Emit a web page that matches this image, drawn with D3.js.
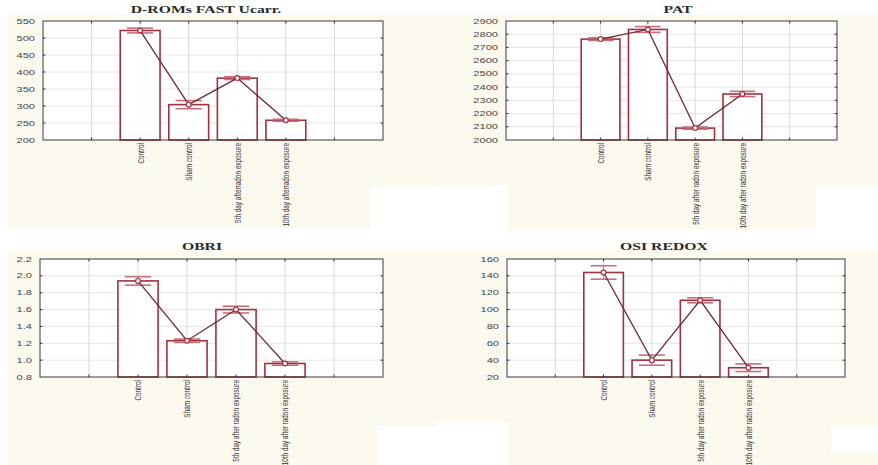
<!DOCTYPE html>
<html>
<head>
<meta charset="utf-8">
<script src="https://cdn.jsdelivr.net/npm/d3@7"></script>
<style>
  html, body { margin: 0; padding: 0; background: #ffffff; }
  svg { display: block; }
</style>
</head>
<body>
<svg id="chart" width="878" height="465"></svg>
<script>
// ---------- data ----------
const categories = ["Control", "Sham control", "5th day after radon exposure", "10th day after radon exposure"];
const categoriesDroms = ["Control", "Sham control", "5th day afterradon exposure", "10th day afterradon exposure"];

const dromsMean = [522, 304, 382, 258];
const dromsErr  = [7, 12, 4, 3];
const dromsTicks = [200, 250, 300, 350, 400, 450, 500, 550];

const patMean = [2763, 2836, 2090, 2348];
const patErr  = [10, 22, 8, 20];
const patTicks = [2000, 2100, 2200, 2300, 2400, 2500, 2600, 2700, 2800, 2900];

const obriMean = [1.94, 1.23, 1.60, 0.96];
const obriErr  = [0.05, 0.02, 0.04, 0.02];
const obriTicks = [0.8, 1.0, 1.2, 1.4, 1.6, 1.8, 2.0, 2.2];

const osiMean = [144, 40, 111, 31];
const osiErr  = [8, 6, 3, 4.5];
const osiTicks = [20, 40, 60, 80, 100, 120, 140, 160];

const titles = ["D-ROMs FAST Ucarr.", "PAT", "OBRI", "OSI REDOX"];

// ---------- layout ----------
const svg = d3.select("#chart");
const cream = "#fcf9ef";

// scanned background panels
const bgRects = [
  [7, 15, 431, 213], [438, 15, 440, 215],
  [7, 250, 431, 215], [438, 250, 440, 215]
];
const whiteRects = [
  [370, 187, 68, 43], [438, 185, 70, 45], [815, 185, 63, 45],
  [378, 426, 60, 39], [438, 422, 70, 43], [831, 427, 47, 25]
];
svg.selectAll("rect.bg").data(bgRects).join("rect")
  .attr("x", d => d[0]).attr("y", d => d[1]).attr("width", d => d[2]).attr("height", d => d[3])
  .attr("fill", cream);
svg.selectAll("rect.wh").data(whiteRects).join("rect")
  .attr("x", d => d[0]).attr("y", d => d[1]).attr("width", d => d[2]).attr("height", d => d[3])
  .attr("fill", "#ffffff");

const panels = [
  { title: titles[0], cats: categoriesDroms, mean: dromsMean, err: dromsErr, ticks: dromsTicks, fmt: d3.format("d"),
    x0: 43, x1: 383, y0: 21, y1: 140, tx: 206, ty: 13 },
  { title: titles[1], cats: categories, mean: patMean, err: patErr, ticks: patTicks, fmt: d3.format("d"),
    x0: 506, x1: 837, y0: 21, y1: 140, tx: 678, ty: 13 },
  { title: titles[2], cats: categories, mean: obriMean, err: obriErr, ticks: obriTicks, fmt: d3.format(".1f"),
    x0: 40, x1: 383, y0: 259, y1: 377, tx: 202, ty: 249.5 },
  { title: titles[3], cats: categories, mean: osiMean, err: osiErr, ticks: osiTicks, fmt: d3.format("d"),
    x0: 507, x1: 845, y0: 259, y1: 377, tx: 664, ty: 249.5 }
];

const barStroke = "#a3303f";
const lineColor = "#6e2634";
const errColor = "#c4707c";
const stretch = 1.5;

panels.forEach(p => {
  const g = svg.append("g");
  const x = d3.scaleLinear().domain([0, 7]).range([p.x0, p.x1]);
  const y = d3.scaleLinear().domain([p.ticks[0], p.ticks[p.ticks.length - 1]]).range([p.y1, p.y0]);
  const step = x(1) - x(0);
  const xTicks = [1, 2, 3, 4, 5, 6];
  const idx = p.cats.map((c, i) => i);
  const cx = i => x(i + 2);

  // plot area
  g.append("rect").attr("x", p.x0).attr("y", p.y0).attr("width", p.x1 - p.x0).attr("height", p.y1 - p.y0)
    .attr("fill", "#ffffff");

  // gridlines
  g.selectAll("line.hg").data(p.ticks.slice(1, -1)).join("line")
    .attr("x1", p.x0).attr("x2", p.x1).attr("y1", d => y(d)).attr("y2", d => y(d))
    .attr("stroke", "#e0e0e0").attr("stroke-width", 0.8);
  g.selectAll("line.vg").data(xTicks).join("line")
    .attr("x1", d => x(d)).attr("x2", d => x(d)).attr("y1", p.y0).attr("y2", p.y1)
    .attr("stroke", "#d0d0d0").attr("stroke-width", 0.8);

  // bars
  const bw = step * 0.82;
  g.selectAll("rect.bar").data(idx).join("rect")
    .attr("x", i => cx(i) - bw / 2).attr("y", i => y(p.mean[i]))
    .attr("width", bw).attr("height", i => p.y1 - y(p.mean[i]))
    .attr("fill", "#ffffff").attr("stroke", barStroke).attr("stroke-width", 1.6);

  // error bars
  const cw = step * 0.27;
  idx.forEach(i => {
    const yt = y(p.mean[i] + p.err[i]), yb = y(p.mean[i] - p.err[i]);
    g.append("line").attr("x1", cx(i)).attr("x2", cx(i)).attr("y1", yt).attr("y2", yb)
      .attr("stroke", errColor).attr("stroke-width", 1);
    [yt, yb].forEach(yy => g.append("line").attr("x1", cx(i) - cw).attr("x2", cx(i) + cw)
      .attr("y1", yy).attr("y2", yy).attr("stroke", errColor).attr("stroke-width", 1.6));
  });

  // connecting line
  const line = d3.line().x(i => cx(i)).y(i => y(p.mean[i]));
  g.append("path").datum(idx).attr("d", line).attr("fill", "none")
    .attr("stroke", lineColor).attr("stroke-width", 1.3);

  // mean markers
  g.selectAll("circle.m").data(idx).join("circle")
    .attr("cx", i => cx(i)).attr("cy", i => y(p.mean[i])).attr("r", 2.4)
    .attr("fill", "#ffffff").attr("stroke", "#a82f40").attr("stroke-width", 1.2);

  // frame
  g.append("rect").attr("x", p.x0).attr("y", p.y0).attr("width", p.x1 - p.x0).attr("height", p.y1 - p.y0)
    .attr("fill", "none").attr("stroke", "#3a3a3a").attr("stroke-width", 1);

  // inner ticks
  xTicks.forEach(t => {
    g.append("line").attr("x1", x(t)).attr("x2", x(t)).attr("y1", p.y0).attr("y2", p.y0 + 2.5).attr("stroke", "#333");
    g.append("line").attr("x1", x(t)).attr("x2", x(t)).attr("y1", p.y1).attr("y2", p.y1 - 2.5).attr("stroke", "#333");
  });
  p.ticks.slice(1, -1).forEach(t => {
    g.append("line").attr("x1", p.x0).attr("x2", p.x0 + 2.5).attr("y1", y(t)).attr("y2", y(t)).attr("stroke", "#333");
    g.append("line").attr("x1", p.x1).attr("x2", p.x1 - 2.5).attr("y1", y(t)).attr("y2", y(t)).attr("stroke", "#333");
  });

  // y tick labels
  g.selectAll("text.yl").data(p.ticks).join("text")
    .attr("transform", d => `translate(${p.x0 - 8},${y(d)}) scale(${stretch},1)`)
    .attr("dy", "0.35em").attr("text-anchor", "end")
    .attr("font-family", "'Liberation Sans', Arial, sans-serif").attr("font-size", 7.4)
    .attr("fill", "#444")
    .text(d => p.fmt(d));

  // category labels
  g.selectAll("text.cl").data(idx).join("text")
    .attr("transform", i => `translate(${cx(i)},${p.y1 + 3}) scale(${stretch},1) rotate(-90)`)
    .attr("dy", "0.35em").attr("text-anchor", "end")
    .attr("font-family", "'Liberation Sans', Arial, sans-serif").attr("font-size", 6.4)
    .attr("fill", "#333")
    .text(i => p.cats[i]);

  // title
  g.append("text")
    .attr("transform", `translate(${p.tx},${p.ty}) scale(${stretch},1)`)
    .attr("text-anchor", "middle")
    .attr("font-family", "'Liberation Serif', 'Times New Roman', serif").attr("font-weight", "bold")
    .attr("font-size", 10.5).attr("fill", "#2a2a2a")
    .text(p.title);
});
</script>
</body>
</html>
